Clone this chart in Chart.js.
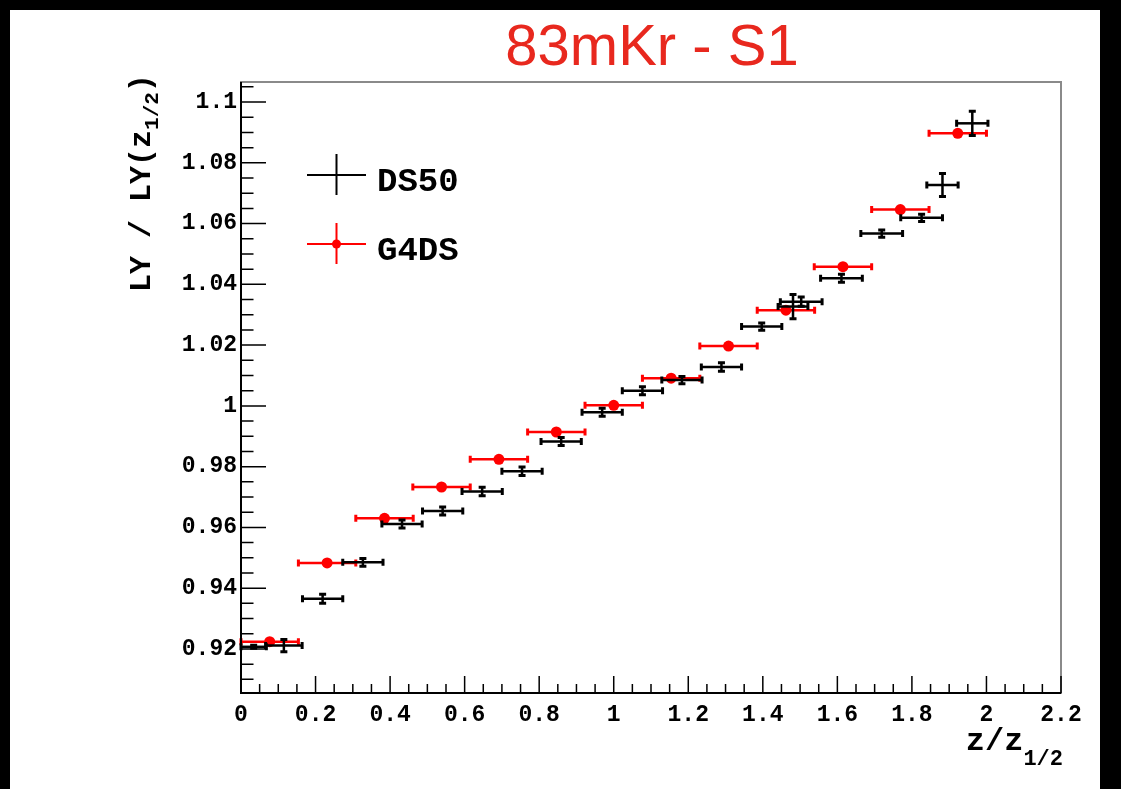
<!DOCTYPE html>
<html><head><meta charset="utf-8">
<script src="https://cdn.jsdelivr.net/npm/chart.js@4/dist/chart.umd.min.js"></script>
<style>
html,body{margin:0;padding:0;background:#000;overflow:hidden;}
canvas{display:block;}
</style></head><body>
<canvas id="c" width="1121" height="789"></canvas>
<script>
// ---- text ----
const titleText = "83mKr - S1";
const seriesNames = ["DS50", "G4DS"];

// ---- axis ticks ----
const xTickValues = [0, 0.2, 0.4, 0.6, 0.8, 1, 1.2, 1.4, 1.6, 1.8, 2, 2.2];
const xTickLabels = ["0", "0.2", "0.4", "0.6", "0.8", "1", "1.2", "1.4", "1.6", "1.8", "2", "2.2"];
const yTickValues = [0.92, 0.94, 0.96, 0.98, 1.0, 1.02, 1.04, 1.06, 1.08, 1.1];
const yTickLabels = ["0.92", "0.94", "0.96", "0.98", "1", "1.02", "1.04", "1.06", "1.08", "1.1"];

// ---- DS50 (black) ----
const ds50X    = [0.034, 0.115, 0.219, 0.327, 0.432, 0.541, 0.647, 0.754, 0.859, 0.969, 1.077, 1.183, 1.289, 1.397, 1.481, 1.503, 1.611, 1.719, 1.826, 1.882, 1.962];
const ds50Y    = [0.9207, 0.9211, 0.9365, 0.9485, 0.9611, 0.9654, 0.9718, 0.9785, 0.9883, 0.9979, 1.0050, 1.0085, 1.0128, 1.0261, 1.0327, 1.0343, 1.0420, 1.0567, 1.0619, 1.0727, 1.0930];
const ds50XErr = [0.034, 0.049, 0.054, 0.054, 0.054, 0.054, 0.054, 0.054, 0.054, 0.054, 0.054, 0.054, 0.054, 0.054, 0.040, 0.056, 0.056, 0.056, 0.056, 0.042, 0.042];
const ds50YErr = [0.0005, 0.0020, 0.0015, 0.0013, 0.0013, 0.0013, 0.0014, 0.0014, 0.0013, 0.0013, 0.0013, 0.0012, 0.0014, 0.0012, 0.0040, 0.0015, 0.0013, 0.0012, 0.0012, 0.0038, 0.0040];

// ---- G4DS (red) ----
const g4dsX    = [0.077, 0.231, 0.385, 0.538, 0.692, 0.846, 1.000, 1.154, 1.308, 1.462, 1.615, 1.769, 1.923];
const g4dsY    = [0.9224, 0.9483, 0.9630, 0.9733, 0.9824, 0.9914, 1.0002, 1.0091, 1.0197, 1.0315, 1.0458, 1.0646, 1.0897];
const g4dsXErr = [0.077, 0.077, 0.077, 0.077, 0.077, 0.077, 0.077, 0.077, 0.077, 0.077, 0.077, 0.077, 0.077];
const g4dsYErr = [0, 0, 0, 0, 0, 0, 0, 0, 0, 0, 0, 0, 0];

const MONO = '"Liberation Mono", "DejaVu Sans Mono", monospace';

function drawErrors(ctx, xs, ys, X, Y, EX, EY, color) {
  ctx.save();
  ctx.strokeStyle = color;
  ctx.lineCap = 'butt';
  for (let i = 0; i < X.length; i++) {
    const px = xs.getPixelForValue(X[i]);
    const py = ys.getPixelForValue(Y[i]);
    const x1 = xs.getPixelForValue(X[i] - EX[i]);
    const x2 = xs.getPixelForValue(X[i] + EX[i]);
    ctx.lineWidth = 2.5;
    ctx.beginPath(); ctx.moveTo(x1, py); ctx.lineTo(x2, py); ctx.stroke();
    ctx.lineWidth = 3;
    ctx.beginPath();
    ctx.moveTo(x1, py - 3.5); ctx.lineTo(x1, py + 3.5);
    ctx.moveTo(x2, py - 3.5); ctx.lineTo(x2, py + 3.5);
    ctx.stroke();
    if (EY[i] > 0) {
      const y1 = ys.getPixelForValue(Y[i] - EY[i]);
      const y2 = ys.getPixelForValue(Y[i] + EY[i]);
      ctx.lineWidth = 2.5;
      ctx.beginPath(); ctx.moveTo(px, y1); ctx.lineTo(px, y2); ctx.stroke();
      ctx.lineWidth = 3;
      ctx.beginPath();
      ctx.moveTo(px - 3.5, y1); ctx.lineTo(px + 3.5, y1);
      ctx.moveTo(px - 3.5, y2); ctx.lineTo(px + 3.5, y2);
      ctx.stroke();
    }
  }
  ctx.restore();
}

const rootStyle = {
  id: 'rootStyle',
  beforeDraw(chart) {
    const ctx = chart.ctx;
    ctx.save();
    ctx.fillStyle = '#000';
    ctx.fillRect(0, 0, chart.width, chart.height);
    ctx.fillStyle = '#fff';
    ctx.fillRect(10, 10, 1090, 779);
    ctx.restore();
  },
  afterDatasetsDraw(chart) {
    const ctx = chart.ctx, xs = chart.scales.x, ys = chart.scales.y, a = chart.chartArea;
    drawErrors(ctx, xs, ys, g4dsX, g4dsY, g4dsXErr, g4dsYErr, '#ff0000');
    drawErrors(ctx, xs, ys, ds50X, ds50Y, ds50XErr, ds50YErr, '#000000');

    ctx.save();
    // frame
    ctx.strokeStyle = '#8a8a8a';
    ctx.lineWidth = 2;
    ctx.strokeRect(a.left, a.top, a.right - a.left, a.bottom - a.top);
    ctx.strokeStyle = '#000';
    ctx.beginPath();
    ctx.moveTo(a.left, a.top); ctx.lineTo(a.left, a.bottom); ctx.lineTo(a.right, a.bottom);
    ctx.stroke();

    // ticks (inside)
    ctx.lineWidth = 1.5;
    ctx.strokeStyle = '#000';
    ctx.beginPath();
    for (let k = 0; k <= 44; k++) {
      const v = k * 0.05;
      const px = xs.getPixelForValue(v);
      const len = (k % 4 === 0) ? 17 : 9;
      ctx.moveTo(px, a.bottom); ctx.lineTo(px, a.bottom - len);
    }
    for (let k = 0; k <= 40; k++) {
      const v = 0.905 + k * 0.005;
      const py = ys.getPixelForValue(v);
      if (py < a.top + 1 || py > a.bottom - 1) continue;
      const r = Math.round(v * 1000) % 20;
      const len = (r === 0) ? 25 : 12.5;
      ctx.moveTo(a.left, py); ctx.lineTo(a.left + len, py);
    }
    ctx.stroke();

    // legend
    const lx = 336.5;
    const ly1 = 175, ly2 = 244;
    ctx.lineWidth = 2;
    ctx.strokeStyle = '#000';
    ctx.beginPath();
    ctx.moveTo(307, ly1); ctx.lineTo(366, ly1);
    ctx.moveTo(lx, 154); ctx.lineTo(lx, 195);
    ctx.stroke();
    ctx.strokeStyle = '#ff0000';
    ctx.beginPath();
    ctx.moveTo(307, ly2); ctx.lineTo(366, ly2);
    ctx.moveTo(lx, 223); ctx.lineTo(lx, 264);
    ctx.stroke();
    ctx.fillStyle = '#ff0000';
    ctx.beginPath(); ctx.arc(lx, ly2, 4.5, 0, Math.PI * 2); ctx.fill();
    ctx.fillStyle = '#000';
    ctx.font = 'bold 34px ' + MONO;
    ctx.textAlign = 'left';
    ctx.textBaseline = 'alphabetic';
    ctx.fillText(seriesNames[0], 377, 191);
    ctx.fillText(seriesNames[1], 377, 260);

    // x title
    ctx.font = 'bold 22px ' + MONO;
    const ws = ctx.measureText('1/2').width;
    ctx.font = 'bold 32px ' + MONO;
    const wm = ctx.measureText('z/z').width;
    const sx = 1063 - ws - wm;
    ctx.fillText('z/z', sx, 750);
    ctx.font = 'bold 22px ' + MONO;
    ctx.fillText('1/2', sx + wm, 765);

    // y title (rotated)
    ctx.translate(150, 292);
    ctx.rotate(-Math.PI / 2);
    ctx.font = 'bold 30px ' + MONO;
    ctx.fillText('LY / LY(z', 0, 0);
    const w1 = ctx.measureText('LY / LY(z').width;
    ctx.font = 'bold 21px ' + MONO;
    ctx.fillText('1/2', w1, 8);
    const w2 = ctx.measureText('1/2').width;
    ctx.font = 'bold 30px ' + MONO;
    ctx.fillText(')', w1 + w2, 0);
    ctx.restore();

    // main title
    ctx.save();
    ctx.fillStyle = '#e8281e';
    ctx.font = '58px "Liberation Sans", Arial, sans-serif';
    ctx.textAlign = 'center';
    ctx.textBaseline = 'alphabetic';
    ctx.fillText(titleText, 652, 65);
    ctx.restore();
  }
};

const chart = new Chart(document.getElementById('c'), {
  type: 'scatter',
  data: {
    datasets: [
      {
        label: seriesNames[1],
        data: g4dsX.map((x, i) => ({ x: x, y: g4dsY[i] })),
        pointRadius: 5.5,
        pointBackgroundColor: '#ff0000',
        pointBorderWidth: 0,
        showLine: false
      },
      {
        label: seriesNames[0],
        data: ds50X.map((x, i) => ({ x: x, y: ds50Y[i] })),
        pointRadius: 0,
        showLine: false
      }
    ]
  },
  options: {
    responsive: false,
    devicePixelRatio: 1,
    animation: false,
    layout: { padding: { top: 82, right: 60, left: 0, bottom: 0 } },
    plugins: { legend: { display: false }, tooltip: { enabled: false }, title: { display: false } },
    scales: {
      x: {
        type: 'linear', min: 0, max: 2.2,
        grid: { display: false }, border: { display: false },
        afterBuildTicks(s) { s.ticks = xTickValues.map(v => ({ value: v })); },
        afterFit(s) { s.height = 96; },
        ticks: {
          autoSkip: false, maxRotation: 0, padding: 0, color: '#000',
          font: { family: MONO, size: 23, weight: 'bold' },
          callback: (v, i) => xTickLabels[i]
        }
      },
      y: {
        type: 'linear', min: 0.9055, max: 1.1066,
        grid: { display: false }, border: { display: false },
        afterBuildTicks(s) { s.ticks = yTickValues.map(v => ({ value: v })); },
        afterFit(s) { s.width = 241; },
        ticks: {
          autoSkip: false, padding: -4, color: '#000',
          font: { family: MONO, size: 23, weight: 'bold' },
          callback: (v, i) => yTickLabels[i]
        }
      }
    }
  },
  plugins: [rootStyle]
});
</script>
</body></html>
